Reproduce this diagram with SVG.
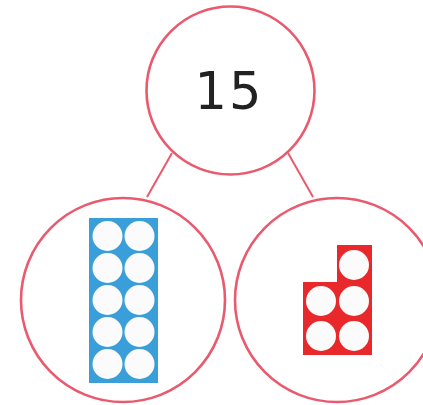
<svg xmlns="http://www.w3.org/2000/svg" width="423" height="405" viewBox="0 0 423 405">
  <style>
    .ring { fill: #ffffff; stroke: #ea5a6e; stroke-width: 2.6; }
    .link { stroke: #ea5a6e; stroke-width: 2; fill: none; }
    .dot { fill: #fbfbfb; filter: url(#soft); }
    .num { font-family: "DejaVu Sans", "Liberation Sans", sans-serif; font-size: 51px; fill: #222222; letter-spacing: 2px; }
  </style>
  <defs>
    <filter id="soft" x="-20%" y="-20%" width="140%" height="140%">
      <feGaussianBlur stdDeviation="0.7"/>
    </filter>
  </defs>
  <rect width="423" height="405" fill="#ffffff"/>
  <g id="connectors">
    <line class="link" x1="172" y1="153" x2="147" y2="197"/>
    <line class="link" x1="288" y1="153" x2="313" y2="197"/>
  </g>
  <g id="whole">
    <circle class="ring" cx="230.5" cy="90.5" r="84"/>
    <text class="num" x="229" y="109" text-anchor="middle">15</text>
  </g>
  <g id="part-ten">
    <circle class="ring" cx="123" cy="300" r="102"/>
    <rect x="89" y="218" width="69" height="165" fill="#3a9fd8"/>
    <circle class="dot" cx="107.5" cy="236" r="15"/>
    <circle class="dot" cx="139.5" cy="236" r="15"/>
    <circle class="dot" cx="107.5" cy="268" r="15"/>
    <circle class="dot" cx="139.5" cy="268" r="15"/>
    <circle class="dot" cx="107.5" cy="300" r="15"/>
    <circle class="dot" cx="139.5" cy="300" r="15"/>
    <circle class="dot" cx="107.5" cy="332" r="15"/>
    <circle class="dot" cx="139.5" cy="332" r="15"/>
    <circle class="dot" cx="107.5" cy="364" r="15"/>
    <circle class="dot" cx="139.5" cy="364" r="15"/>
  </g>
  <g id="part-five">
    <circle class="ring" cx="337" cy="300" r="102"/>
    <path d="M337 245 H372 V355 H303 V282 H337 Z" fill="#e8282b"/>
    <circle class="dot" cx="354" cy="265" r="15"/>
    <circle class="dot" cx="321" cy="301" r="15"/>
    <circle class="dot" cx="354" cy="301" r="15"/>
    <circle class="dot" cx="321" cy="336" r="15"/>
    <circle class="dot" cx="354" cy="336" r="15"/>
  </g>
</svg>
